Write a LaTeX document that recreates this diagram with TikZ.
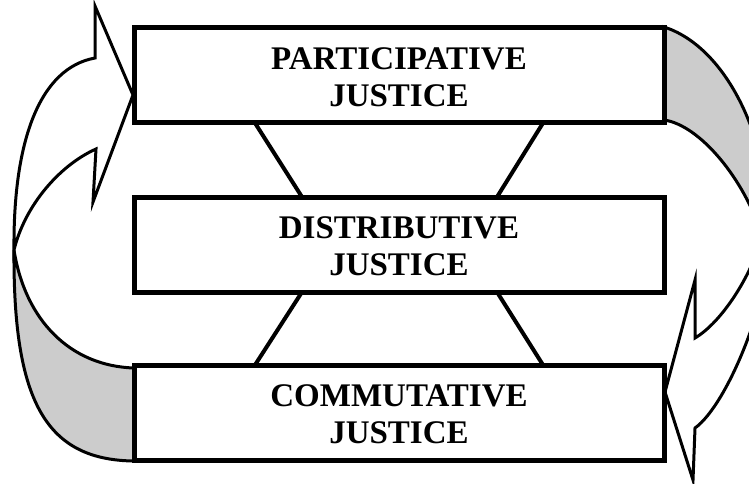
\documentclass[tikz,border=0pt]{standalone}
\usepackage{fontspec}
\setmainfont{Liberation Serif}
\usetikzlibrary{calc, positioning}

\begin{document}
\begin{tikzpicture}[x=1pt, y=-1pt,
    justice/.style={draw=black, fill=white, line width=5pt, minimum width=530pt,
      minimum height=95pt, inner sep=0pt, outer sep=0pt, align=center,
      font=\fontsize{33}{37}\selectfont\bfseries},
    link/.style={line width=4pt},
    band/.style={draw=black, line width=3pt, line join=miter}]
  \useasboundingbox (0,0) rectangle (749,484);
  \clip (0,0) rectangle (749,484);
  % left arrow: shaded back of the band, then the front with its head
  \filldraw[band, fill=black!20] (134,461) .. controls (45,460) and (13,400) .. (14,250)
    .. controls (25,320) and (70,366) .. (134,368) -- cycle;
  \filldraw[band, fill=white] (14,250) .. controls (13,140) and (40,68) .. (95,58)
    -- (95,6) -- (133,95) -- (93,202) -- (96,149)
    .. controls (60,165) and (25,205) .. (14,250) -- cycle;
  % right arrow, same again running downwards
  \filldraw[band, fill=black!20] (664,120) -- (664,27) .. controls (724,46) and (770,134) .. (770,236)
    -- (762,236) .. controls (745,180) and (700,125) .. (664,120);
  \filldraw[band, fill=white] (762,236) -- (770,236) .. controls (770,300) and (727,405) .. (695,428)
    -- (693,480) -- (665,392) -- (695,280) -- (695,338)
    .. controls (722,322) and (752,275) .. (762,236) -- cycle;
  % the three boxes
  \foreach \nm/\ypos/\txt in {part/75.5/PARTICIPATIVE, dist/244.5/DISTRIBUTIVE, comm/412.5/COMMUTATIVE}
    \node[justice] (\nm) at (399,\ypos) {\rule{0pt}{26pt}\txt\\JUSTICE};
  \draw[link] ([xshift=-144]part.south) -- ([xshift=-97]dist.north);
  \draw[link] ([xshift=144]part.south) -- ([xshift=98]dist.north);
  \draw[link] ([xshift=-97]dist.south) -- ([xshift=-144]comm.north);
  \draw[link] ([xshift=98]dist.south) -- ([xshift=144]comm.north);
\end{tikzpicture}
\end{document}
